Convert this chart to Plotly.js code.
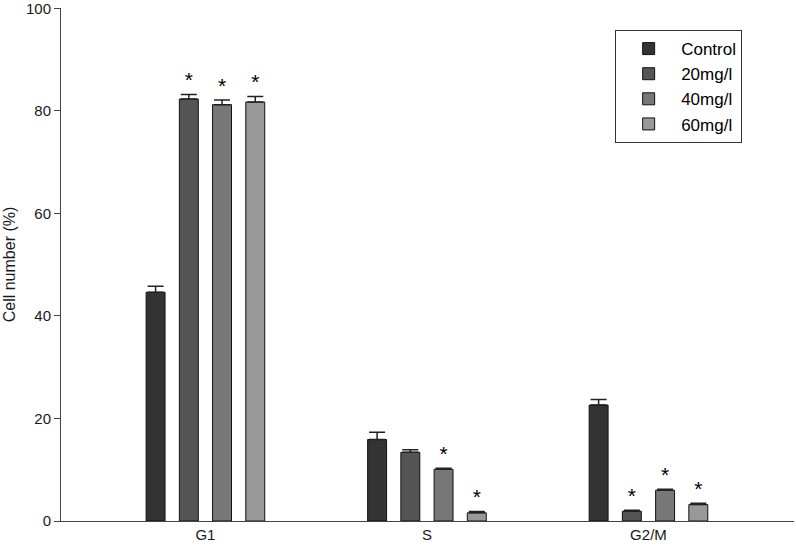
<!DOCTYPE html>
<html>
<head>
<meta charset="utf-8">
<script src="https://cdn.plot.ly/plotly-3.0.1.min.js"></script>
<style>
  html, body { margin: 0; padding: 0; background: #fff; }
  #chart { width: 796px; height: 550px; }
</style>
</head>
<body>
<div id="chart"></div>
<script>
var phases = ["G1", "S", "G2/M"];
var groups = ["Control", "20mg/l", "40mg/l", "60mg/l"];

var control = [44.6, 15.9, 22.6];
var dose20 = [82.3, 13.4, 1.9];
var dose40 = [81.2, 10.1, 6.0];
var dose60 = [81.7, 1.6, 3.2];

var controlErr = [1.2, 1.4, 1.1];
var dose20Err = [0.9, 0.5, 0.2];
var dose40Err = [0.9, 0.2, 0.2];
var dose60Err = [1.1, 0.25, 0.25];

// significance marks (true = asterisk)
var controlSig = [false, false, false];
var dose20Sig = [true, false, true];
var dose40Sig = [true, true, true];
var dose60Sig = [true, true, true];

var yTicks = [0, 20, 40, 60, 80, 100];

var fills = ["#333333", "#555555", "#777777", "#999999"];

var values = [control, dose20, dose40, dose60];
var errs = [controlErr, dose20Err, dose40Err, dose60Err];
var sigs = [controlSig, dose20Sig, dose40Sig, dose60Sig];

var data = [];

for (var i = 0; i < groups.length; i++) {
	data.push({
		type: "bar",
		x: phases,
		y: values[i],
		name: groups[i],
		offsetgroup: "g" + i,
		marker: {
			color: fills[i],
			line: { color: "#111111", width: 1 }
		},
		error_y: {
			type: "data",
			array: errs[i],
			symmetric: false,
			arrayminus: [0, 0, 0],
			color: "#222222",
			thickness: 1.5,
			width: 8
		}
	});
}

// asterisks above the error bars
for (var i = 0; i < groups.length; i++) {
	var ys = [];
	var txt = [];
	for (var j = 0; j < phases.length; j++) {
		if (sigs[i][j]) {
			ys.push(values[i][j] + errs[i][j] + 2.4);
			txt.push("*");
		} else {
			ys.push(null);
			txt.push("");
		}
	}
	data.push({
		type: "scatter",
		mode: "text",
		x: phases,
		y: ys,
		text: txt,
		offsetgroup: "g" + i,
		textposition: "middle center",
		textfont: { family: "Liberation Sans, Arial, sans-serif", size: 21, color: "#000" },
		showlegend: false,
		hoverinfo: "skip",
		cliponaxis: false
	});
}

var layout = {
	width: 796,
	height: 550,
	paper_bgcolor: "#ffffff",
	plot_bgcolor: "#ffffff",
	font: { family: "Liberation Sans, Arial, sans-serif", color: "#1a1a1a", size: 15 },
	barmode: "group",
	scattermode: "group",
	bargap: 0.4,
	bargroupgap: 0.43,
	scattergap: 0.4,
	margin: { l: 61, r: 2, t: 8, b: 29 },
	showlegend: true,
	legend: {
		x: 0.756,
		y: 0.957,
		xanchor: "left",
		yanchor: "top",
		bordercolor: "#333333",
		borderwidth: 1,
		bgcolor: "#ffffff",
		font: { size: 17, color: "#000000" },
		itemwidth: 55
	},
	xaxis: {
		type: "category",
		range: [-0.652, 2.657],
		showline: true,
		linecolor: "#444444",
		linewidth: 1,
		ticks: "",
		showgrid: false,
		zeroline: false,
		tickfont: { size: 15 }
	},
	yaxis: {
		range: [0, 100.05],
		tickvals: yTicks,
		ticklabeloverflow: "allow",
		showline: true,
		linecolor: "#444444",
		linewidth: 1,
		ticks: "outside",
		ticklen: 6,
		tickcolor: "#444444",
		showgrid: false,
		zeroline: false,
		tickfont: { size: 15 },
		title: { text: "Cell number (%)", font: { size: 16 }, standoff: 6 }
	}
};

Plotly.newPlot("chart", data, layout, { displayModeBar: false });
</script>
</body>
</html>
